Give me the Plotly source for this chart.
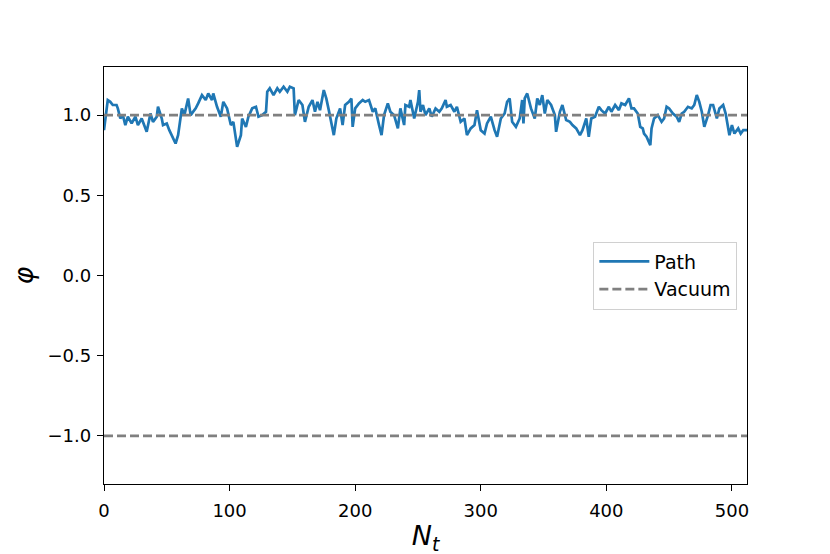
import plotly.graph_objects as go

steps = [0, 3, 5, 7, 10, 11, 13, 15, 17, 19, 22, 25, 27, 30, 34, 37, 39, 42, 43, 46,
         47, 50, 52, 54, 57, 59, 62, 64, 67, 69, 73, 75, 78, 81, 83, 86, 87, 90, 93, 95,
         98, 101, 103, 106, 109, 110, 113, 115, 118, 121, 123, 126, 129, 130, 132, 135, 138, 140, 143, 146,
         148, 151, 152, 155, 158, 160, 163, 166, 167, 168, 170, 172, 175, 177, 179, 181, 183, 185, 188, 190,
         192, 195, 197, 198, 200, 203, 206, 208, 211, 214, 216, 219, 221, 223, 226, 228, 231, 234, 236, 239,
         240, 243, 244, 247, 250, 251, 252, 254, 256, 259, 261, 264, 267, 269, 272, 273, 276, 279, 281, 284,
         287, 289, 292, 295, 297, 300, 303, 305, 308, 311, 313, 316, 319, 321, 323, 325, 328, 331, 333, 334,
         335, 337, 340, 343, 345, 347, 349, 351, 353, 356, 359, 360, 363, 365, 368, 371, 373, 376, 379, 381,
         384, 386, 388, 391, 394, 396, 399, 402, 404, 407, 410, 412, 415, 418, 420, 422, 425, 427, 429, 430,
         432, 435, 436, 438, 441, 444, 446, 448, 450, 453, 456, 458, 460, 462, 465, 468, 470, 472, 474, 476,
         478, 481, 483, 485, 488, 490, 493, 495, 498, 500, 502, 505, 507, 509, 512]
phi = [0.906, 1.094, 1.083, 1.063, 1.063, 1.042, 0.979, 1.0, 0.938, 0.990, 0.948, 0.990, 0.938, 0.979, 0.896, 1.010, 0.958, 0.990, 1.052, 0.979,
       0.938, 0.948, 0.906, 0.875, 0.823, 0.875, 1.042, 1.0, 1.104, 1.0, 1.042, 1.073, 1.125, 1.094, 1.135, 1.094, 1.135, 1.052, 0.990, 1.083,
       1.042, 0.938, 0.958, 0.802, 0.875, 0.979, 0.927, 0.990, 1.042, 1.052, 0.990, 1.0, 1.021, 1.146, 1.167, 1.125, 1.167, 1.146, 1.177, 1.146,
       1.177, 1.167, 1.0, 1.094, 1.063, 0.958, 1.052, 1.094, 1.063, 1.021, 1.083, 1.031, 1.156, 1.104, 1.031, 0.958, 0.875, 0.979, 1.042, 0.938,
       1.063, 1.083, 1.104, 0.927, 1.042, 1.073, 1.094, 1.083, 1.094, 1.021, 1.042, 0.938, 0.875, 1.0, 1.073, 1.021, 1.0, 0.917, 1.042, 0.938,
       1.063, 1.052, 1.094, 0.979, 1.083, 1.156, 1.021, 1.063, 1.0, 1.042, 0.990, 1.042, 1.021, 1.042, 1.094, 1.052, 1.063, 1.021, 1.052, 0.958,
       0.979, 0.875, 0.917, 0.938, 1.031, 0.906, 0.885, 0.948, 0.990, 0.906, 0.865, 0.979, 1.010, 1.083, 1.104, 0.958, 0.927, 0.979, 1.094, 0.948,
       1.104, 1.135, 1.042, 0.979, 1.104, 1.063, 1.125, 1.010, 1.094, 1.063, 1.0, 0.896, 1.021, 1.063, 0.969, 0.958, 0.938, 0.917, 0.875, 0.906,
       0.979, 0.865, 0.979, 0.990, 1.052, 1.031, 1.010, 1.052, 1.021, 1.063, 1.031, 1.073, 1.063, 1.104, 1.042, 1.042, 1.010, 0.927, 0.917, 0.885,
       0.865, 0.813, 0.917, 0.979, 1.0, 0.958, 0.979, 1.052, 1.042, 1.010, 0.990, 0.958, 1.010, 1.021, 1.052, 1.042, 1.063, 1.125, 1.083, 1.021,
       0.927, 1.0, 1.063, 1.063, 0.979, 1.042, 1.063, 1.010, 0.875, 0.938, 0.885, 0.917, 0.885, 0.906, 0.906]

# classical vacua of the double well
vacuum_levels = [1.0, -1.0]
n_t = 512

y_ticks = [-1.0, -0.5, 0.0, 0.5, 1.0]
y_tick_labels = ["\u22121.0", "\u22120.5", "0.0", "0.5", "1.0"]
x_ticks = [0, 100, 200, 300, 400, 500]

fig = go.Figure()
fig.add_trace(go.Scatter(x=steps, y=phi, mode="lines", name="Path",
                         line=dict(color="#1f77b4", width=2.7)))
for i, v in enumerate(vacuum_levels):
    fig.add_trace(go.Scatter(x=[0, n_t], y=[v, v], mode="lines", name="Vacuum",
                             showlegend=(i == 0),
                             line=dict(color="#808080", width=2.7, dash="9px,4px")))

axis_style = dict(showline=True, linecolor="black", linewidth=1.3, mirror=True,
                  ticks="outside", ticklen=6, tickwidth=1.3, tickcolor="black", showgrid=False,
                  zeroline=False, automargin=False, tickfont=dict(size=18, color="black"))

fig.update_xaxes(range=[0, n_t], tickvals=x_ticks, ticklabelstandoff=4,
                 title=dict(text="<i>N</i><sub><i>t</i></sub>", font=dict(size=27, color="black"),
                            standoff=6),
                 **axis_style)
fig.update_yaxes(range=[-1.3, 1.3], tickvals=y_ticks, ticktext=y_tick_labels,
                 ticklabelstandoff=2,
                 title=dict(text="<i>φ</i>", font=dict(size=27, color="black"), standoff=28),
                 **axis_style)

# page body adds an 8px offset, margins compensate for it
fig.update_layout(
    width=830, height=554,
    margin=dict(l=96, r=91, t=59, b=78),
    paper_bgcolor="white", plot_bgcolor="white",
    font=dict(family="DejaVu Sans", color="black"),
    legend=dict(x=0.985, xanchor="right", y=0.5, yanchor="middle",
                bgcolor="rgba(255,255,255,0.8)", bordercolor="#d0d0d0", borderwidth=1,
                font=dict(size=19), itemwidth=50),
)

fig.write_html("out.html")
